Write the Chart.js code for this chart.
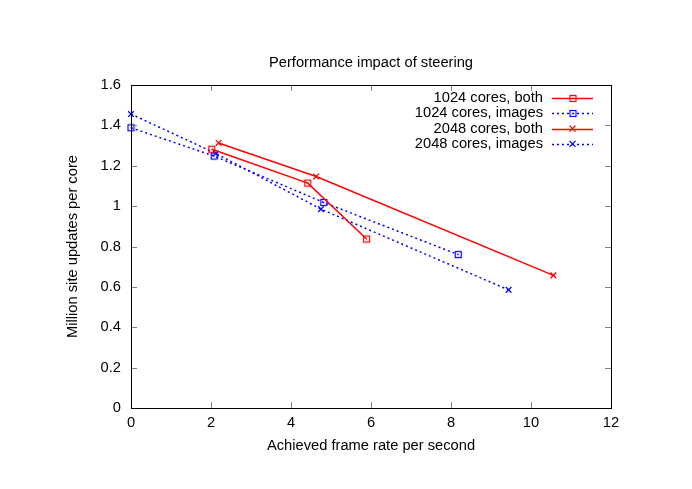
<!DOCTYPE html>
<html>
<head>
<meta charset="utf-8">
<script src="https://cdn.jsdelivr.net/npm/chart.js@4.4.0/dist/chart.umd.min.js"></script>
<style>
  body { margin: 0; background: #fff; }
  #grafico { display: block; }
</style>
</head>
<body>
<canvas id="grafico" width="692" height="489"></canvas>
<script>
// === DADOS ===
const tituloGrafico = "Performance impact of steering";
const tituloX = "Achieved frame rate per second";
const tituloY = "Million site updates per core";
const nomesSeries = ["1024 cores, both", "1024 cores, images", "2048 cores, both", "2048 cores, images"];

const ticksX = [0, 2, 4, 6, 8, 10, 12];
const ticksY = [0, 0.2, 0.4, 0.6, 0.8, 1, 1.2, 1.4, 1.6];

const both1024X = [2.02, 4.42, 5.89];
const both1024Y = [1.282, 1.114, 0.837];
const images1024X = [0, 2.08, 4.82, 8.18];
const images1024Y = [1.388, 1.248, 1.018, 0.760];
const both2048X = [2.19, 4.63, 10.56];
const both2048Y = [1.313, 1.147, 0.657];
const images2048X = [0, 2.12, 4.75, 9.44];
const images2048Y = [1.456, 1.261, 0.985, 0.585];

const FONTE = "Liberation Sans, Arial, Helvetica, sans-serif";
const TAM_FONTE = 14.7;

function pontos(xs, ys) {
  return xs.map((x, i) => ({ x: x, y: ys[i] }));
}

// quadrado com ponto no meio, estilo gnuplot
function marcadorQuadrado(cor) {
  const c = document.createElement("canvas");
  c.width = 9;
  c.height = 9;
  const g = c.getContext("2d");
  g.strokeStyle = cor;
  g.lineWidth = 1.2;
  g.strokeRect(1.5, 1.5, 6, 6);
  g.fillStyle = cor;
  g.fillRect(4, 4, 1, 1);
  return c;
}

const quadVermelho = marcadorQuadrado("#ff0000");
const quadAzul = marcadorQuadrado("#0000ff");

function serie(nome, xs, ys, cor, tracejado, marcador) {
  return {
    label: nome,
    data: pontos(xs, ys),
    showLine: true,
    borderColor: cor,
    backgroundColor: cor,
    borderWidth: 1.5,
    borderDash: tracejado ? [2, 3] : [],
    pointStyle: marcador,
    pointRadius: 4,
    pointHoverRadius: 4,
    pointBorderColor: cor,
    pointBackgroundColor: "transparent",
    pointBorderWidth: 1.3,
    clip: false
  };
}

// === PLUGIN: moldura, ticks internos, titulo e legenda ===
const pluginGnuplot = {
  id: "gnuplot",
  afterDraw(chart) {
    const ctx = chart.ctx;
    const area = chart.chartArea;
    const sx = chart.scales.x;
    const sy = chart.scales.y;
    const tam = 6;

    ctx.save();
    // ticks internos (e espelhados)
    ctx.strokeStyle = "#808080";
    ctx.lineWidth = 1;
    ctx.beginPath();
    ticksX.forEach(v => {
      const px = Math.round(sx.getPixelForValue(v)) + 0.5;
      ctx.moveTo(px, area.bottom);
      ctx.lineTo(px, area.bottom - tam);
      ctx.moveTo(px, area.top);
      ctx.lineTo(px, area.top + tam);
    });
    ticksY.forEach(v => {
      const py = Math.round(sy.getPixelForValue(v)) + 0.5;
      ctx.moveTo(area.left, py);
      ctx.lineTo(area.left + tam, py);
      ctx.moveTo(area.right, py);
      ctx.lineTo(area.right - tam, py);
    });
    ctx.stroke();

    // moldura
    ctx.strokeStyle = "#000";
    ctx.strokeRect(Math.round(area.left) + 0.5, Math.round(area.top) + 0.5,
      Math.round(area.right - area.left), Math.round(area.bottom - area.top));

    // titulo
    ctx.fillStyle = "#000";
    ctx.font = TAM_FONTE + "px " + FONTE;
    ctx.textAlign = "center";
    ctx.textBaseline = "middle";
    ctx.fillText(tituloGrafico, (area.left + area.right) / 2, 63);

    // legenda
    const xTexto = 543;
    const xLinha1 = 552;
    const xLinha2 = 593;
    chart.data.datasets.forEach((ds, i) => {
      const y = 98 + i * 15.3;
      ctx.fillStyle = "#000";
      ctx.textAlign = "right";
      ctx.fillText(ds.label, xTexto, y);

      ctx.strokeStyle = ds.borderColor;
      ctx.lineWidth = ds.borderWidth;
      ctx.setLineDash(ds.borderDash);
      ctx.beginPath();
      ctx.moveTo(xLinha1, Math.round(y) + 0.5);
      ctx.lineTo(xLinha2, Math.round(y) + 0.5);
      ctx.stroke();
      ctx.setLineDash([]);

      const meio = (xLinha1 + xLinha2) / 2;
      if (ds.pointStyle instanceof HTMLCanvasElement) {
        ctx.drawImage(ds.pointStyle, Math.round(meio) - 4.5, Math.round(y) - 4);
      } else {
        ctx.lineWidth = 1.3;
        ctx.beginPath();
        ctx.moveTo(meio - 3, y - 3);
        ctx.lineTo(meio + 3, y + 3);
        ctx.moveTo(meio + 3, y - 3);
        ctx.lineTo(meio - 3, y + 3);
        ctx.stroke();
      }
    });
    ctx.restore();
  }
};

const ctx = document.getElementById("grafico").getContext("2d");

new Chart(ctx, {
  type: "scatter",
  data: {
    datasets: [
      serie(nomesSeries[0], both1024X, both1024Y, "#ff0000", false, quadVermelho),
      serie(nomesSeries[1], images1024X, images1024Y, "#0000ff", true, quadAzul),
      serie(nomesSeries[2], both2048X, both2048Y, "#ff0000", false, "crossRot"),
      serie(nomesSeries[3], images2048X, images2048Y, "#0000ff", true, "crossRot")
    ]
  },
  options: {
    responsive: false,
    animation: false,
    events: [],
    layout: {
      padding: { left: 60, right: 81, top: 85, bottom: 27 }
    },
    plugins: {
      legend: { display: false },
      tooltip: { enabled: false },
      title: { display: false }
    },
    scales: {
      x: {
        type: "linear",
        min: 0,
        max: 12,
        afterBuildTicks: (s) => { s.ticks = ticksX.map(v => ({ value: v })); },
        afterFit: (s) => { s.height = 489 - 27 - 408; },
        grid: { display: false, drawTicks: false },
        border: { display: false },
        ticks: {
          color: "#000",
          padding: 6,
          maxRotation: 0,
          font: { family: FONTE, size: TAM_FONTE }
        },
        title: {
          display: true,
          text: tituloX,
          color: "#000",
          padding: { top: 0, bottom: 7 },
          font: { family: FONTE, size: TAM_FONTE }
        }
      },
      y: {
        type: "linear",
        min: 0,
        max: 1.6,
        afterBuildTicks: (s) => { s.ticks = ticksY.map(v => ({ value: v })); },
        afterFit: (s) => { s.width = 131 - 60; },
        grid: { display: false, drawTicks: false },
        border: { display: false },
        ticks: {
          color: "#000",
          padding: 10,
          callback: (v) => String(Math.round(v * 10) / 10),
          font: { family: FONTE, size: TAM_FONTE }
        },
        title: {
          display: true,
          text: tituloY,
          color: "#000",
          padding: { top: 4, bottom: 0 },
          font: { family: FONTE, size: TAM_FONTE }
        }
      }
    }
  },
  plugins: [pluginGnuplot]
});
</script>
</body>
</html>
